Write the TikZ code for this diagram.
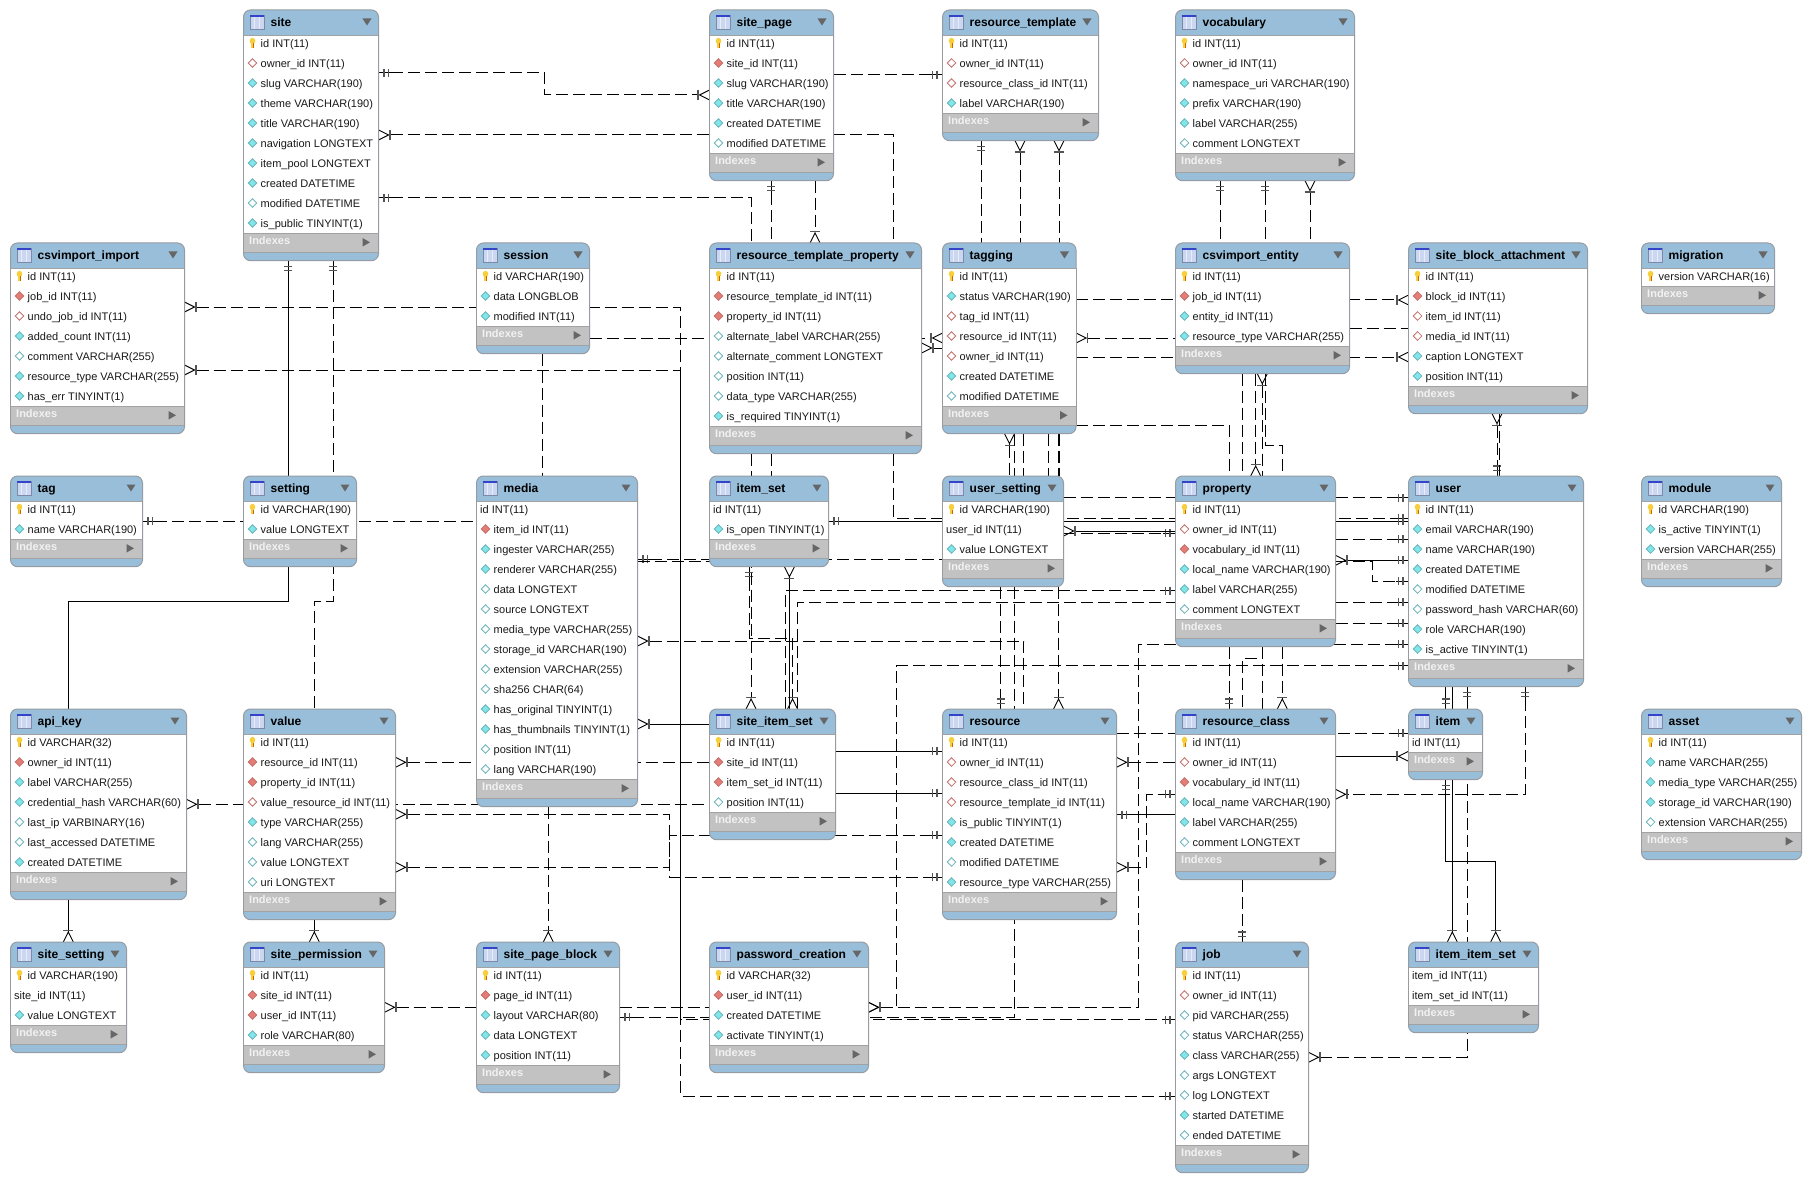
\documentclass[tikz,border=0pt]{standalone}
\usepackage{fontspec}
\setmainfont{Liberation Sans}
\usetikzlibrary{calc,arrows.meta}
\pgfdeclarelayer{fg}
\pgfsetlayers{main,fg}
\definecolor{hdr}{HTML}{98BEDA}
\definecolor{edge}{HTML}{969CA2}
\definecolor{idx}{HTML}{C2C2C2}
\definecolor{idxl}{HTML}{A2A2A2}
\definecolor{tri}{HTML}{666666}
\definecolor{cy}{HTML}{80E6EA}
\definecolor{cyl}{HTML}{6FB6BC}
\definecolor{rd}{HTML}{E57C76}
\definecolor{rdl}{HTML}{C5736E}
\definecolor{mk}{HTML}{555555}
\definecolor{keyc}{HTML}{F7CF3C}
\definecolor{icf}{HTML}{CBD6F0}
\definecolor{ics}{HTML}{E6ECF8}
\definecolor{icb}{HTML}{3444C8}
\definecolor{ice}{HTML}{7C8AA8}
\pgfdeclarearrow{
  name=ERone,
  setup code={
    \pgfarrowssettipend{0pt}\pgfarrowssetlineend{-12.5pt}
    \pgfarrowssetbackend{-12.5pt}\pgfarrowssetvisualbackend{-12.5pt}
    \pgfarrowshullpoint{0pt}{4pt}\pgfarrowshullpoint{0pt}{-4pt}
    \pgfarrowshullpoint{-12.5pt}{4pt}\pgfarrowshullpoint{-12.5pt}{-4pt}
  },
  drawing code={
    \pgfsetdash{}{0pt}
    \pgfsetlinewidth{1pt}
    \pgfpathmoveto{\pgfpoint{-12.5pt}{0pt}}\pgfpathlineto{\pgfpoint{0pt}{0pt}}
    \pgfusepathqstroke
    {\pgfsetstrokecolor{mk}\pgfsetlinewidth{1.3pt}
    \pgfpathmoveto{\pgfpoint{-5.5pt}{-4pt}}\pgfpathlineto{\pgfpoint{-5.5pt}{4pt}}
    \pgfpathmoveto{\pgfpoint{-10pt}{-4pt}}\pgfpathlineto{\pgfpoint{-10pt}{4pt}}
    \pgfusepathqstroke}
  },
  cache=false
}
\pgfdeclarearrow{
  name=ERcrow,
  setup code={
    \pgfarrowssettipend{0pt}\pgfarrowssetlineend{-12pt}
    \pgfarrowssetbackend{-12pt}\pgfarrowssetvisualbackend{-12pt}
    \pgfarrowshullpoint{0pt}{5.5pt}\pgfarrowshullpoint{0pt}{-5.5pt}
    \pgfarrowshullpoint{-12pt}{5.5pt}\pgfarrowshullpoint{-12pt}{-5.5pt}
  },
  drawing code={
    \pgfsetdash{}{0pt}
    \pgfsetlinewidth{0.9pt}
    \pgfpathmoveto{\pgfpoint{0pt}{5pt}}\pgfpathlineto{\pgfpoint{-10pt}{0pt}}\pgfpathlineto{\pgfpoint{0pt}{-5pt}}
    \pgfpathmoveto{\pgfpoint{-12pt}{0pt}}\pgfpathlineto{\pgfpoint{-10pt}{0pt}}
    \pgfusepathqstroke
    {\pgfsetstrokecolor{mk}\pgfsetlinewidth{1.4pt}
    \pgfpathmoveto{\pgfpoint{-11.5pt}{-5pt}}\pgfpathlineto{\pgfpoint{-11.5pt}{5pt}}
    \pgfusepathqstroke}
  },
  cache=false
}
\tikzset{
  x=1pt,y=-1pt,
  conn/.style={line width=1pt,black,dash pattern=on 12pt off 5pt},
  solidconn/.style={line width=1pt,black},
  tablebox/.style={draw=edge,line width=1pt,fill=hdr,rounded corners=7pt,inner sep=0pt,outer sep=0pt},
  titletxt/.style={anchor=mid west,inner sep=0pt,font=\fontsize{12}{14}\selectfont\bfseries,text=black},
  rowtxt/.style={anchor=mid west,inner sep=0pt,font=\fontsize{11}{13}\selectfont,text=black!90},
  idxtxt/.style={anchor=mid west,inner sep=0pt,font=\fontsize{11}{13}\selectfont\bfseries,text=white!95!black},
  diam/.style={line width=.8pt,line join=miter}
}
\newcommand{\iconk}[2]{\fill[keyc] ($(#1,#2)+(0,-2)$) ellipse[x radius=2.8,y radius=3.2];
  \fill[keyc] ($(#1,#2)+(-1.1,0)$) rectangle ($(#1,#2)+(1.1,4.6)$);
  \draw[orange!80!black,line width=.35pt] ($(#1,#2)+(1.1,0.5)$) -- ($(#1,#2)+(1.1,4.6)$);}
\newcommand{\diamondmark}[4]{\filldraw[diam,draw=#3,fill=#4] ($(#1,#2)+(-4.3,0)$) -- ($(#1,#2)+(0,-4.3)$) -- ($(#1,#2)+(4.3,0)$) -- ($(#1,#2)+(0,4.3)$) -- cycle;}
\newcommand{\iconr}[2]{\diamondmark{#1}{#2}{rdl}{rd}}
\newcommand{\iconh}[2]{\diamondmark{#1}{#2}{rdl}{white}}
\newcommand{\iconc}[2]{\diamondmark{#1}{#2}{cyl}{cy}}
\newcommand{\icono}[2]{\diamondmark{#1}{#2}{cyl}{white}}
\def\kindnone{n}
% name, x, y, width, number of rows, rows
\newcommand{\tbl}[6]{%
  \begin{pgfonlayer}{fg}
  \pgfmathsetmacro{\tblH}{20*#5+50.7}
  \pgfmathsetmacro{\ya}{#3+25}
  \pgfmathsetmacro{\yb}{#3+23+20*#5}
  \pgfmathsetmacro{\yc}{\yb+19.5}
  \pgfmathsetmacro{\xr}{#2+#4}
  \node[tablebox,minimum width=#4pt,minimum height=\tblH pt,anchor=north west] (#1) at (#2,#3) {};
  \fill[white] (#2,\ya) rectangle (\xr,\yb);
  \fill[idx] (#2,\yb) rectangle (\xr,\yc);
  \draw[idxl,line width=.8pt] (#2,\ya) -- (\xr,\ya) (#2,\yb) -- (\xr,\yb) (#2,\yc) -- (\xr,\yc);
  \draw[edge,line width=1pt] (#2,\ya) -- (#2,\yc) (\xr,\ya) -- (\xr,\yc);
  % title icon
  \fill[icf] ($(#2,#3)+(6.5,5)$) rectangle ($(#2,#3)+(20.5,19)$);
  \draw[ice,line width=.7pt] ($(#2,#3)+(6.5,5)$) rectangle ($(#2,#3)+(20.5,19)$);
  \fill[icb] ($(#2,#3)+(6.5,5)$) rectangle ($(#2,#3)+(20.5,6.8)$);
  \draw[ics,line width=.6pt] ($(#2,#3)+(11,7)$) -- ($(#2,#3)+(11,19)$) ($(#2,#3)+(16,7)$) -- ($(#2,#3)+(16,19)$);
  \node[titletxt] (#1-title) at ($(#2,#3)+(27,13.5)$) {\detokenize{#1}};
  \fill[tri] ($(\xr,#3)+(-16,8.5)$) -- ($(\xr,#3)+(-7,8.5)$) -- ($(\xr,#3)+(-11.5,15.5)$) -- cycle;
  \foreach \rowkind/\rowtext [count=\ri from 0] in {#6} {
    \pgfmathsetmacro{\yy}{#3+33+20*\ri}
    \pgfmathsetmacro{\xi}{#2+9}
    \ifx\rowkind\kindnone
      \node[rowtxt] (#1-r\ri) at ($(#2,\yy)+(3.5,1.5)$) {\rowtext};
    \else
      \csname icon\rowkind\endcsname{\xi}{\yy}
      \node[rowtxt] (#1-r\ri) at ($(#2,\yy)+(17,1.5)$) {\rowtext};
    \fi
  }
  \node[idxtxt] (#1-idx) at ($(#2,\yb)+(5.5,9)$) {Indexes};
  \fill[tri] ($(\xr,\yb)+(-16,5)$) -- ($(\xr,\yb)+(-8.5,9.3)$) -- ($(\xr,\yb)+(-16,13.6)$) -- cycle;
  \end{pgfonlayer}
}
\begin{document}
\begin{tikzpicture}
\useasboundingbox (0,0) rectangle (1812,1182);
\fill[white] (0,0) rectangle (1812,1182);
% ---- row 1
\tbl{site}{243.5}{10}{135}{10}{k/id INT(11),h/owner\_id INT(11),c/slug VARCHAR(190),c/theme VARCHAR(190),c/title VARCHAR(190),c/navigation LONGTEXT,c/item\_pool LONGTEXT,c/created DATETIME,o/modified DATETIME,c/is\_public TINYINT(1)}
\tbl{site_page}{709.5}{10}{124}{6}{k/id INT(11),r/site\_id INT(11),c/slug VARCHAR(190),c/title VARCHAR(190),c/created DATETIME,o/modified DATETIME}
\tbl{resource_template}{942.5}{10}{156}{4}{k/id INT(11),h/owner\_id INT(11),h/resource\_class\_id INT(11),c/label VARCHAR(190)}
\tbl{vocabulary}{1175.5}{10}{179}{6}{k/id INT(11),h/owner\_id INT(11),c/namespace\_uri VARCHAR(190),c/prefix VARCHAR(190),c/label VARCHAR(255),o/comment LONGTEXT}
% ---- row 2
\tbl{csvimport_import}{10.5}{243}{174}{7}{k/id INT(11),r/job\_id INT(11),h/undo\_job\_id INT(11),c/added\_count INT(11),o/comment VARCHAR(255),c/resource\_type VARCHAR(255),c/has\_err TINYINT(1)}
\tbl{session}{476.5}{243}{113}{3}{k/id VARCHAR(190),c/data LONGBLOB,c/modified INT(11)}
\tbl{resource_template_property}{709.5}{243}{212}{8}{k/id INT(11),r/resource\_template\_id INT(11),r/property\_id INT(11),o/alternate\_label VARCHAR(255),o/alternate\_comment LONGTEXT,o/position INT(11),o/data\_type VARCHAR(255),c/is\_required TINYINT(1)}
\tbl{tagging}{942.5}{243}{133.5}{7}{k/id INT(11),c/status VARCHAR(190),h/tag\_id INT(11),h/resource\_id INT(11),h/owner\_id INT(11),c/created DATETIME,o/modified DATETIME}
\tbl{csvimport_entity}{1175.5}{243}{174}{4}{k/id INT(11),r/job\_id INT(11),c/entity\_id INT(11),c/resource\_type VARCHAR(255)}
\tbl{site_block_attachment}{1408.5}{243}{179}{6}{k/id INT(11),r/block\_id INT(11),h/item\_id INT(11),h/media\_id INT(11),c/caption LONGTEXT,c/position INT(11)}
\tbl{migration}{1641.5}{243}{133}{1}{k/version VARCHAR(16)}
% ---- row 3
\tbl{tag}{10.5}{476}{132}{2}{k/id INT(11),c/name VARCHAR(190)}
\tbl{setting}{243.5}{476}{113}{2}{k/id VARCHAR(190),c/value LONGTEXT}
\tbl{media}{476.5}{476}{161}{14}{n/id INT(11),r/item\_id INT(11),c/ingester VARCHAR(255),c/renderer VARCHAR(255),o/data LONGTEXT,o/source LONGTEXT,o/media\_type VARCHAR(255),o/storage\_id VARCHAR(190),o/extension VARCHAR(255),o/sha256 CHAR(64),c/has\_original TINYINT(1),c/has\_thumbnails TINYINT(1),o/position INT(11),o/lang VARCHAR(190)}
\tbl{item_set}{709.5}{476}{119}{2}{n/id INT(11),c/is\_open TINYINT(1)}
\tbl{user_setting}{942.5}{476}{121}{3}{k/id VARCHAR(190),n/user\_id INT(11),c/value LONGTEXT}
\tbl{property}{1175.5}{476}{160}{6}{k/id INT(11),h/owner\_id INT(11),r/vocabulary\_id INT(11),c/local\_name VARCHAR(190),c/label VARCHAR(255),o/comment LONGTEXT}
\tbl{user}{1408.5}{476}{175}{8}{k/id INT(11),c/email VARCHAR(190),c/name VARCHAR(190),c/created DATETIME,o/modified DATETIME,o/password\_hash VARCHAR(60),c/role VARCHAR(190),c/is\_active TINYINT(1)}
\tbl{module}{1641.5}{476}{140}{3}{k/id VARCHAR(190),c/is\_active TINYINT(1),c/version VARCHAR(255)}
% ---- row 4
\tbl{api_key}{10.5}{709}{176}{7}{k/id VARCHAR(32),r/owner\_id INT(11),c/label VARCHAR(255),c/credential\_hash VARCHAR(60),o/last\_ip VARBINARY(16),o/last\_accessed DATETIME,c/created DATETIME}
\tbl{value}{243.5}{709}{152}{8}{k/id INT(11),r/resource\_id INT(11),r/property\_id INT(11),h/value\_resource\_id INT(11),c/type VARCHAR(255),o/lang VARCHAR(255),o/value LONGTEXT,o/uri LONGTEXT}
\tbl{site_item_set}{709.5}{709}{126}{4}{k/id INT(11),r/site\_id INT(11),r/item\_set\_id INT(11),o/position INT(11)}
\tbl{resource}{942.5}{709}{174}{8}{k/id INT(11),h/owner\_id INT(11),h/resource\_class\_id INT(11),h/resource\_template\_id INT(11),c/is\_public TINYINT(1),c/created DATETIME,o/modified DATETIME,c/resource\_type VARCHAR(255)}
\tbl{resource_class}{1175.5}{709}{160}{6}{k/id INT(11),h/owner\_id INT(11),r/vocabulary\_id INT(11),c/local\_name VARCHAR(190),c/label VARCHAR(255),o/comment LONGTEXT}
\tbl{item}{1408.5}{709}{74}{1}{n/id INT(11)}
\tbl{asset}{1641.5}{709}{160}{5}{k/id INT(11),c/name VARCHAR(255),c/media\_type VARCHAR(255),c/storage\_id VARCHAR(190),o/extension VARCHAR(255)}
% ---- row 5
\tbl{site_setting}{10.5}{942}{116}{3}{k/id VARCHAR(190),n/site\_id INT(11),c/value LONGTEXT}
\tbl{site_permission}{243.5}{942}{141}{4}{k/id INT(11),r/site\_id INT(11),r/user\_id INT(11),c/role VARCHAR(80)}
\tbl{site_page_block}{476.5}{942}{143}{5}{k/id INT(11),r/page\_id INT(11),c/layout VARCHAR(80),c/data LONGTEXT,c/position INT(11)}
\tbl{password_creation}{709.5}{942}{159}{4}{k/id VARCHAR(32),r/user\_id INT(11),c/created DATETIME,c/activate TINYINT(1)}
\tbl{job}{1175.5}{942}{133}{9}{k/id INT(11),h/owner\_id INT(11),o/pid VARCHAR(255),o/status VARCHAR(255),c/class VARCHAR(255),o/args LONGTEXT,o/log LONGTEXT,c/started DATETIME,o/ended DATETIME}
\tbl{item_item_set}{1408.5}{942}{130}{2}{n/item\_id INT(11),n/item\_set\_id INT(11)}
% ---- dashed connectors
\begin{scope}[conn]
\draw[ERone-ERcrow] (site.east |- 0,73) -- (544.6,73) -- (544.6,95) -- (site_page.west |- 0,95);
\draw[ERcrow-] (site.east |- 0,135) -- (893,135) -- (resource_template_property.north -| 893,0);
\draw[ERone-] (site.east |- 0,198) -- (751,198) -- (resource_template_property.north -| 751,0);
\draw[ERone-] (site_page.south -| 771,0) -- (resource_template_property.north -| 771,0);
\draw[-ERcrow] (site_page.south -| 815,0) -- (resource_template_property.north -| 815,0);
\draw[-ERone] (site_page.east |- 0,75) -- (resource_template.west |- 0,75);
\draw[ERone-] (resource_template.south -| 981,0) -- (tagging.north -| 981,0);
\draw[ERcrow-] (resource_template.south -| 1020,0) -- (tagging.north -| 1020,0);
\draw[ERcrow-] (resource_template.south -| 1059,0) -- (tagging.north -| 1059,0);
\draw[ERone-] (vocabulary.south -| 1220,0) -- (csvimport_entity.north -| 1220,0);
\draw[ERone-] (vocabulary.south -| 1265,0) -- (csvimport_entity.north -| 1265,0);
\draw[ERcrow-] (vocabulary.south -| 1310,0) -- (csvimport_entity.north -| 1310,0);
\draw[-ERcrow] (tagging.east |- 0,300) -- (site_block_attachment.west |- 0,300);
\draw[ERcrow-] (tagging.east |- 0,338) -- (csvimport_entity.west |- 0,338);
\draw (csvimport_entity.east |- 0,328) -- (site_block_attachment.west |- 0,328);
\draw[-ERcrow] (tagging.east |- 0,357) -- (site_block_attachment.west |- 0,357);
\draw[-ERcrow] (session.east |- 0,338) -- (tagging.west |- 0,338);
\draw[ERcrow-] (resource_template_property.east |- 0,348) -- (tagging.west |- 0,348);
\draw[ERcrow-ERone] (csvimport_import.east |- 0,307) -- (680.7,307) -- (680.7,1096) -- (job.west |- 0,1096);
\draw[ERcrow-ERone] (csvimport_import.east |- 0,370) -- (680.7,370) -- (680.7,1019.5) -- (job.west |- 0,1019.5);
\draw[ERone-] (tag.east |- 0,521.3) -- (media.west |- 0,521.3);
\draw[-ERone] (resource_template_property.south -| 893.5,0) -- (893.5,518) -- (user.west |- 0,518);
\draw[-ERone] (user_setting.east |- 0,497.5) -- (user.west |- 0,497.5);
\draw[-ERone] (user_setting.east |- 0,533) -- (property.west |- 0,533);
\draw[-ERone] (property.east |- 0,539.3) -- (user.west |- 0,539.3);
\draw[-ERone] (property.east |- 0,561) -- (1372.7,561) -- (1372.7,581.3) -- (user.west |- 0,581.3);
\draw[-ERone] (site_item_set.north -| 785.6,0) -- (785.6,590.7) -- (property.west |- 0,590.7);
\draw[-ERone] (site_item_set.north -| 797,0) -- (797,602.3) -- (user.west |- 0,602.3);
\draw[-ERone] (property.east |- 0,623.3) -- (user.west |- 0,623.3);
\draw[ERcrow-ERone] (password_creation.east |- 0,1007.3) -- (1138.5,1007.3) -- (1138.5,644.3) -- (user.west |- 0,644.3);
\draw[ERcrow-ERone] (password_creation.east |- 0,1007.3) -- (896.6,1007.3) -- (896.6,665.7) -- (user.west |- 0,665.7);
\draw[ERone-] (site_page_block.east |- 0,1017.3) -- (1014.5,1017.3) -- (resource.south -| 1014.5,0);
\draw (site_page_block.east |- 0,1007.3) -- (password_creation.west |- 0,1007.3);
\draw[ERcrow-] (site_permission.east |- 0,1007.3) -- (site_page_block.west |- 0,1007.3);
\draw[-ERcrow] (media.south -| 548.3,0) -- (site_page_block.north -| 548.3,0);
\draw[ERcrow-] (api_key.east |- 0,804.3) -- (site_item_set.west |- 0,804.3);
\draw[ERcrow-] (value.east |- 0,762.3) -- (site_item_set.west |- 0,762.3);
\draw[ERcrow-ERone] (value.east |- 0,814.3) -- (669.3,814.3) -- (669.3,877.3) -- (resource.west |- 0,877.3);
\draw[ERcrow-ERone] (value.east |- 0,867.3) -- (669.3,867.3) -- (669.3,835.3) -- (resource.west |- 0,835.3);
\draw[ERcrow-] (media.east |- 0,641) -- (1023.6,641) -- (resource.north -| 1023.6,0);
\draw[ERone-ERcrow] (item_set.south -| 749.3,0) -- (749.3,638.3) -- (792.5,638.3) -- (site_item_set.north -| 792.5,0);
\draw[-ERcrow] (resource_template_property.south -| 751,0) -- (site_item_set.north -| 751,0);
\draw (resource_template_property.south -| 771.5,0) -- (item_set.north -| 771.5,0);
\draw[ERone-] (media.east |- 0,559.3) -- (user_setting.west |- 0,559.3);
\draw (media.east |- 0,561.3) -- (item_set.west |- 0,561.3);
\draw[-ERone] (user_setting.south -| 1000.7,0) -- (resource.north -| 1000.7,0);
\draw (user_setting.south -| 1014.5,0) -- (resource.north -| 1014.5,0);
\draw[-ERcrow] (user_setting.south -| 1058.5,0) -- (resource.north -| 1058.5,0);
\draw[ERcrow-] (tagging.south -| 1009.5,0) -- (user_setting.north -| 1009.5,0);
\draw (tagging.south -| 1014.5,0) -- (user_setting.north -| 1014.5,0);
\draw (tagging.south -| 1023.6,0) -- (user_setting.north -| 1023.6,0);
\draw (tagging.south -| 1048.5,0) -- (user_setting.north -| 1048.5,0);
\draw (tagging.south -| 1058.2,0) -- (user_setting.north -| 1058.2,0);
\draw (tagging.south -| 1059.2,0) -- (user_setting.north -| 1059.2,0);
\draw (tagging.east |- 0,425.3) -- (1229.3,425.3) -- (property.north -| 1229.3,0);
\draw (csvimport_entity.south -| 1242.7,0) -- (property.north -| 1242.7,0);
\draw[-ERcrow] (csvimport_entity.south -| 1255.7,0) -- (property.north -| 1255.7,0);
\draw[ERcrow-] (csvimport_entity.south -| 1262.3,0) -- (property.north -| 1262.3,0);
\draw (csvimport_entity.south -| 1265.3,0) -- (1265.3,445.3) -- (1282.3,445.3) -- (property.north -| 1282.3,0);
\draw[-ERone] (property.south -| 1229.3,0) -- (resource_class.north -| 1229.3,0);
\draw (property.south -| 1262.3,0) -- (1262.3,658.3) -- (1242.7,658.3) -- (resource_class.north -| 1242.7,0);
\draw (property.south -| 1262.3,0) -- (resource_class.north -| 1262.3,0);
\draw[-ERcrow] (property.south -| 1282.3,0) -- (resource_class.north -| 1282.3,0);
\draw[ERcrow-ERone] (site_block_attachment.south -| 1497,0) -- (user.north -| 1497,0);
\draw (site_block_attachment.south -| 1499,0) -- (user.north -| 1499,0);
\draw[-ERone] (user.south -| 1445.7,0) -- (item.north -| 1445.7,0);
\draw[ERone-ERcrow] (user.south -| 1467.3,0) -- (1467.3,1057.3) -- (job.east |- 0,1057.3);
\draw[ERone-ERcrow] (user.south -| 1525.3,0) -- (1525.3,794.3) -- (resource_class.east |- 0,794.3);
\draw[-ERone] (resource.east |- 0,733.3) -- (item.west |- 0,733.3);
\draw[ERcrow-] (resource.east |- 0,762.3) -- (resource_class.west |- 0,762.3);
\draw[ERcrow-ERone] (resource.east |- 0,867.3) -- (1146.7,867.3) -- (1146.7,794.3) -- (resource_class.west |- 0,794.3);
\draw[-ERone] (resource_class.south -| 1242.3,0) -- (job.north -| 1242.3,0);
\draw[ERone-] (site.south -| 333.3,0) -- (333.3,601.3) -- (314.3,601.3) -- (value.north -| 314.3,0);
\draw (session.south -| 542.7,0) -- (media.north -| 542.7,0);
\end{scope}
% ---- solid connectors
\begin{scope}[solidconn]
\draw[ERone-ERone] (item_set.east |- 0,521) -- (user.west |- 0,521);
\draw[ERcrow-] (user_setting.east |- 0,531) -- (property.west |- 0,531);
\draw[ERcrow-ERone] (property.east |- 0,560.3) -- (user.west |- 0,560.3);
\draw[-ERone] (site_item_set.east |- 0,751.3) -- (resource.west |- 0,751.3);
\draw[-ERone] (site_item_set.east |- 0,793.3) -- (resource.west |- 0,793.3);
\draw[ERcrow-] (item_set.south -| 789.4,0) -- (site_item_set.north -| 789.4,0);
\draw[ERcrow-] (media.east |- 0,724) -- (site_item_set.west |- 0,724);
\draw[-ERcrow] (user.south -| 1452.3,0) -- (item_item_set.north -| 1452.3,0);
\draw[ERone-ERcrow] (item.south -| 1445.7,0) -- (1445.7,861.7) -- (1495.7,861.7) -- (item_item_set.north -| 1495.7,0);
\draw[-ERcrow] (resource_class.east |- 0,756.3) -- (item.west |- 0,756.3);
\draw[ERone-] (resource.east |- 0,814.7) -- (resource_class.west |- 0,814.7);
\draw[ERone-] (site.south -| 288.3,0) -- (288.3,601.3) -- (68.3,601.3) -- (api_key.north -| 68.3,0);
\draw[-ERcrow] (api_key.south -| 68.3,0) -- (site_setting.north -| 68.3,0);
\draw[-ERcrow] (value.south -| 314.3,0) -- (site_permission.north -| 314.3,0);
\end{scope}
\end{tikzpicture}
\end{document}
